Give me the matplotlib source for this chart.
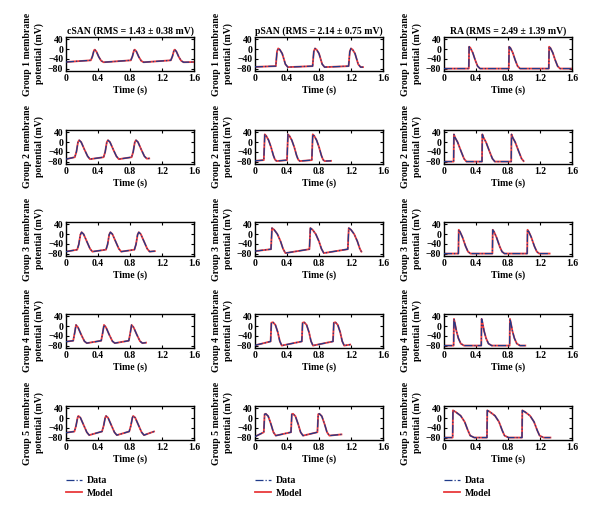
import matplotlib
matplotlib.use("Agg")
import matplotlib.pyplot as plt

plt.rcParams['font.family'] = ['Liberation Serif', 'DejaVu Serif']

# column titles
titles = ['cSAN (RMS = 1.43 ± 0.38 mV)',
          'pSAN (RMS = 2.14 ± 0.75 mV)',
          'RA (RMS = 2.49 ± 1.39 mV)']
groups = ['Group 1', 'Group 2', 'Group 3', 'Group 4', 'Group 5']
xticks = [0, 0.4, 0.8, 1.2, 1.6]
yticks = [40, 0, -40, -80]

# cSAN traces (time s, membrane potential mV)
csan_g1_t = [0, 0.31, 0.33, 0.35, 0.36, 0.38, 0.41, 0.44, 0.47, 0.81, 0.83, 0.85, 0.86, 0.88, 0.91, 0.94, 0.97,
             1.31, 1.33, 1.35, 1.36, 1.38, 1.41, 1.44, 1.47, 1.6]
csan_g1_v = [-53, -46, -30, -5, -2, -10, -32, -48, -54, -46, -30, -5, -2, -10, -32, -48, -54,
             -46, -30, -5, -2, -10, -32, -48, -54, -53]
csan_g2_t = [0, 0.11, 0.13, 0.15, 0.165, 0.19, 0.23, 0.27, 0.30, 0.47, 0.49, 0.51, 0.525, 0.55, 0.59, 0.63, 0.66,
             0.82, 0.84, 0.86, 0.875, 0.90, 0.94, 0.98, 1.01, 1.04]
csan_g2_v = [-70, -62, -40, 0, 8, 0, -30, -58, -70, -62, -40, 0, 8, 0, -30, -58, -70,
             -62, -40, 0, 8, 0, -30, -58, -68, -67]
csan_g3_t = [0, 0.14, 0.16, 0.18, 0.195, 0.22, 0.26, 0.30, 0.33, 0.50, 0.52, 0.54, 0.555, 0.58, 0.62, 0.66, 0.69,
             0.855, 0.875, 0.895, 0.91, 0.935, 0.975, 1.015, 1.045, 1.11]
csan_g3_v = [-72, -64, -42, -2, 8, 0, -30, -60, -72, -64, -42, -2, 8, 0, -30, -60, -72,
             -64, -42, -2, 8, 0, -30, -60, -72, -70]
csan_g4_t = [0, 0.09, 0.11, 0.125, 0.15, 0.19, 0.23, 0.26, 0.44, 0.46, 0.475, 0.50, 0.54, 0.58, 0.61,
             0.785, 0.805, 0.82, 0.845, 0.885, 0.925, 0.955, 1.0]
csan_g4_v = [-64, -60, -25, 5, -5, -35, -62, -70, -60, -25, 5, -5, -35, -62, -70,
             -60, -25, 5, -5, -35, -62, -70, -68]
csan_g5_t = [0, 0.105, 0.125, 0.145, 0.155, 0.18, 0.22, 0.26, 0.29, 0.45, 0.47, 0.49, 0.50, 0.525, 0.565, 0.605, 0.635,
             0.79, 0.81, 0.83, 0.84, 0.865, 0.905, 0.945, 0.975, 1.10]
csan_g5_v = [-60, -55, -32, 2, 9, 2, -28, -58, -70, -55, -32, 2, 9, 2, -28, -58, -70,
             -55, -32, 2, 9, 2, -28, -58, -70, -55]

# pSAN traces
psan_g1_t = [0, 0.26, 0.275, 0.29, 0.31, 0.34, 0.36, 0.38, 0.41, 0.72, 0.735, 0.75, 0.77, 0.80, 0.82, 0.84, 0.87,
             1.17, 1.185, 1.20, 1.22, 1.25, 1.27, 1.29, 1.32, 1.35]
psan_g1_v = [-73, -70, -10, 3, -2, -18, -40, -62, -74, -70, -10, 3, -2, -18, -40, -62, -74,
             -70, -10, 3, -2, -18, -40, -62, -74, -74]
psan_g2_t = [0, 0.11, 0.122, 0.14, 0.17, 0.20, 0.23, 0.25, 0.27, 0.40, 0.412, 0.43, 0.46, 0.49, 0.52, 0.54, 0.56,
             0.71, 0.722, 0.74, 0.77, 0.80, 0.83, 0.85, 0.87, 0.95]
psan_g2_v = [-77, -74, 32, 26, 8, -20, -55, -72, -78, -74, 32, 26, 8, -20, -55, -72, -78,
             -74, 32, 26, 8, -20, -55, -72, -78, -77]
psan_g3_t = [0, 0.20, 0.212, 0.24, 0.28, 0.32, 0.35, 0.38, 0.68, 0.692, 0.72, 0.76, 0.80, 0.83, 0.86,
             1.16, 1.172, 1.20, 1.24, 1.28, 1.31, 1.33]
psan_g3_v = [-70, -62, 25, 18, 0, -30, -60, -78, -62, 25, 18, 0, -30, -60, -78,
             -62, 25, 18, 0, -30, -60, -72]
psan_g4_t = [0, 0.195, 0.205, 0.225, 0.255, 0.285, 0.31, 0.335, 0.585, 0.595, 0.615, 0.645, 0.675, 0.70, 0.725,
             0.975, 0.985, 1.005, 1.035, 1.065, 1.09, 1.115, 1.19]
psan_g4_v = [-79, -63, 14, 16, 5, -25, -62, -80, -63, 14, 16, 5, -25, -62, -80,
             -63, 14, 16, 5, -25, -62, -80, -76]
psan_g5_t = [0, 0.11, 0.12, 0.135, 0.165, 0.20, 0.23, 0.26, 0.45, 0.46, 0.475, 0.505, 0.54, 0.57, 0.60,
             0.78, 0.79, 0.805, 0.835, 0.87, 0.90, 0.93, 1.08]
psan_g5_v = [-76, -58, 16, 18, 8, -25, -58, -72, -58, 16, 18, 8, -25, -58, -72,
             -58, 16, 18, 8, -25, -58, -72, -67]

# RA traces
ra_g1_t = [0, 0.31, 0.314, 0.33, 0.36, 0.39, 0.42, 0.45, 0.81, 0.814, 0.83, 0.86, 0.89, 0.92, 0.95,
           1.31, 1.314, 1.33, 1.36, 1.39, 1.42, 1.45, 1.6]
ra_g1_v = [-80, -80, 10, 5, -15, -45, -70, -80, -80, 10, 5, -15, -45, -70, -80,
           -80, 10, 5, -15, -45, -70, -80, -80]
ra_g2_t = [0, 0.12, 0.124, 0.14, 0.17, 0.21, 0.25, 0.28, 0.475, 0.479, 0.495, 0.525, 0.565, 0.605, 0.635,
           0.84, 0.844, 0.86, 0.89, 0.93, 0.97, 0.995]
ra_g2_v = [-80, -80, 32, 18, 0, -35, -68, -80, -80, 32, 18, 0, -35, -68, -80,
           -80, 32, 18, 0, -35, -68, -78]
ra_g3_t = [0, 0.18, 0.184, 0.20, 0.23, 0.27, 0.30, 0.33, 0.605, 0.609, 0.625, 0.655, 0.695, 0.725, 0.755,
           1.04, 1.044, 1.06, 1.09, 1.13, 1.16, 1.19, 1.32]
ra_g3_v = [-80, -80, 18, 10, -12, -50, -72, -80, -80, 18, 10, -12, -50, -72, -80,
           -80, 18, 10, -12, -50, -72, -80, -80]
ra_g4_t = [0, 0.12, 0.124, 0.135, 0.155, 0.18, 0.21, 0.25, 0.466, 0.47, 0.481, 0.501, 0.526, 0.556, 0.596,
           0.82, 0.824, 0.835, 0.855, 0.88, 0.91, 0.95, 1.016]
ra_g4_v = [-80, -80, 30, 15, -20, -50, -72, -80, -80, 30, 15, -20, -50, -72, -80,
           -80, 30, 15, -20, -50, -72, -80, -80]
ra_g5_t = [0, 0.108, 0.112, 0.148, 0.208, 0.258, 0.298, 0.328, 0.378, 0.537, 0.541, 0.577, 0.637, 0.687, 0.727,
           0.757, 0.807, 0.975, 0.979, 1.015, 1.075, 1.125, 1.165, 1.195, 1.245, 1.33]
ra_g5_v = [-80, -80, 32, 25, 10, -15, -50, -72, -80, -80, 32, 25, 10, -15, -50,
           -72, -80, -80, 32, 25, 10, -15, -50, -72, -80, -80]

traces = [
    [(csan_g1_t, csan_g1_v), (psan_g1_t, psan_g1_v), (ra_g1_t, ra_g1_v)],
    [(csan_g2_t, csan_g2_v), (psan_g2_t, psan_g2_v), (ra_g2_t, ra_g2_v)],
    [(csan_g3_t, csan_g3_v), (psan_g3_t, psan_g3_v), (ra_g3_t, ra_g3_v)],
    [(csan_g4_t, csan_g4_v), (psan_g4_t, psan_g4_v), (ra_g4_t, ra_g4_v)],
    [(csan_g5_t, csan_g5_v), (psan_g5_t, psan_g5_v), (ra_g5_t, ra_g5_v)],
]

W, H = 600, 517
fig = plt.figure(figsize=(6, 5.17), dpi=100)

col_left = [66, 255, 444]
row_top = [37, 130, 222, 314, 406]
ax_w, ax_h = 128, 34
red = '#e8393c'
blue = '#1f3a8a'
fs = 7
fw = 'bold'

for r in range(5):
    for c in range(3):
        ax = fig.add_axes([col_left[c] / W, 1 - (row_top[r] + ax_h) / H, ax_w / W, ax_h / H])
        t, v = traces[r][c]
        ax.plot(t, v, color=red, lw=1.3, label='Model', zorder=2)
        ax.plot(t, v, color=blue, lw=0.9, ls='-.', label='Data', zorder=3)
        ax.set_xlim(0, 1.6)
        ax.set_ylim(-90, 50)
        ax.set_xticks(xticks)
        ax.set_xticklabels(['0', '0.4', '0.8', '1.2', '1.6'], fontweight=fw)
        ax.set_yticks(yticks)
        ax.set_yticklabels(['40', '0', '\u221240', '\u221280'], fontweight=fw)
        ax.tick_params(direction='in', length=2, width=0.8, labelsize=fs, pad=2, top=True, right=True)
        for s in ax.spines.values():
            s.set_linewidth(1.0)
        ax.set_xlabel('Time (s)', fontsize=fs, fontweight=fw, labelpad=2)
        ax.set_ylabel(groups[r] + ' membrane\npotential (mV)', fontsize=fs, fontweight=fw,
                      labelpad=3, linespacing=1.3)
        if r == 0:
            ax.set_title(titles[c], fontsize=fs, fontweight=fw, pad=2)
        if r == 4:
            h, l = ax.get_legend_handles_labels()
            ax.legend([h[1], h[0]], [l[1], l[0]], loc='upper left', frameon=False,
                      prop={'size': fs, 'weight': fw},
                      handlelength=1.6, handletextpad=0.5, labelspacing=0.35, borderaxespad=0,
                      borderpad=0, bbox_to_anchor=(0, -1.07))

fig.savefig('out.png', dpi=100)
